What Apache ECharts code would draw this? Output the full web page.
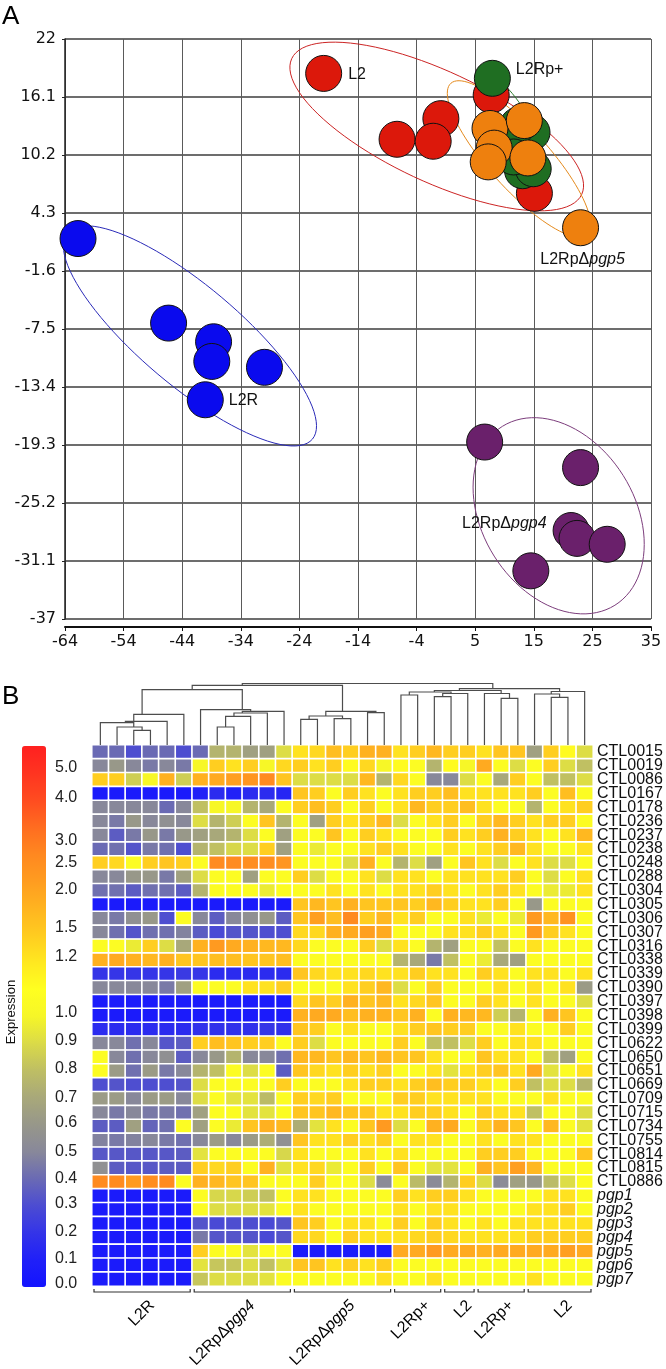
<!DOCTYPE html>
<html>
<head>
<meta charset="utf-8">
<title>PCA and expression heatmap</title>
<script src="https://cdn.jsdelivr.net/npm/echarts@6.0.0/dist/echarts.min.js"></script>
<style>
  html, body { margin: 0; padding: 0; background: #fff; }
  #chart { width: 666px; height: 1369px; }
</style>
</head>
<body>
<div id="chart"></div>
<script>
// ---------- panel A: PCA scores ----------
const l2rPoints = [[-61.8, 1.7], [-46.5, -6.9], [-38.9, -8.8], [-39.2, -10.8], [-30.3, -11.4], [-40.3, -14.7]]
const pgp4Points = [[6.9, -19.0], [23.1, -21.6], [21.5, -28.0], [22.5, -28.8], [27.6, -29.4], [14.7, -32.1]]
const l2Points = [[-20.3, 18.5], [-0.5, 13.9], [-7.9, 11.8], [-1.8, 11.6], [8.0, 16.3], [15.3, 6.3]]
const l2rpPlusPoints = [[8.2, 18.0], [14.9, 12.5], [12.5, 13.2], [13.3, 8.6], [15.1, 8.8], [11.8, 10.0]]
const pgp5Points = [[7.8, 12.9], [13.6, 13.7], [8.5, 10.9], [7.5, 9.5], [14.2, 9.9], [23.1, 2.8]]

// group ellipses: centre x, centre y, first semi-axis (dx, dy), second semi-axis (dx, dy)
const l2rEllipse = [-42.9, -8.2, 20.7, -10.5, -5.4, -3.9]
const pgp4Ellipse = [19.4, -26.5, 9.5, -9.1, -10.9, -4.1]
const l2Ellipse = [-1.2, 13.1, 24.5, -6.9, -3.9, -5.1]
const l2rpPlusEllipse = [12.0, 12.7, 4.8, -5.4, -2.7, -0.9]
const pgp5Ellipse = [12.7, 9.8, 11.5, -7.7, -3.8, -2.0]

// ---------- panel B: expression heatmap ----------
const groupNames = ['L2R', 'L2Rp\u0394pgp4', 'L2Rp\u0394pgp5', 'L2Rp+', 'L2', 'L2Rp+', 'L2']
const groupSizes = [6, 6, 6, 3, 2, 3, 4]

const geneNames = ['CTL0015', 'CTL0019', 'CTL0086', 'CTL0167', 'CTL0178', 'CTL0236', 'CTL0237', 'CTL0238',
  'CTL0248', 'CTL0288', 'CTL0304', 'CTL0305', 'CTL0306', 'CTL0307', 'CTL0316', 'CTL0338', 'CTL0339',
  'CTL0390', 'CTL0397', 'CTL0398', 'CTL0399', 'CTL0622', 'CTL0650', 'CTL0651', 'CTL0669', 'CTL0709',
  'CTL0715', 'CTL0734', 'CTL0755', 'CTL0814', 'CTL0815', 'CTL0886',
  'pgp1', 'pgp2', 'pgp3', 'pgp4', 'pgp5', 'pgp6', 'pgp7']

// one row per gene, one value per sample column (left to right)
const expression = [
  [0.4, 0.4, 0.3, 0.4, 0.4, 0.3, 0.4, 0.75, 0.75, 0.65, 0.65, 0.9, 1.2, 1.3, 1.6, 1.4, 1.8, 1.8, 1.2, 1.4, 1.7, 1.4, 1.4, 1.2, 1.5, 1.5, 0.65, 1.4, 1.1, 0.9],
  [0.5, 0.6, 0.5, 0.45, 0.5, 0.45, 1.0, 1.4, 1.2, 1.4, 1.0, 1.3, 1.4, 1.2, 1.4, 1.1, 1.3, 1.0, 1.1, 1.05, 0.75, 1.1, 1.0, 1.9, 1.05, 0.9, 1.05, 1.4, 0.9, 0.8],
  [1.4, 1.4, 0.85, 1.0, 1.8, 0.85, 1.8, 1.9, 2.1, 2.3, 2.6, 1.5, 0.9, 0.9, 0.9, 0.9, 1.7, 0.75, 1.3, 1.05, 0.5, 0.5, 0.9, 1.05, 0.7, 1.4, 1.05, 0.8, 0.8, 0.9],
  [0.05, 0.05, 0.05, 0.05, 0.05, 0.05, 0.1, 0.15, 0.1, 0.15, 0.15, 0.12, 1.5, 1.4, 1.05, 1.4, 1.2, 1.05, 1.2, 1.4, 1.4, 1.6, 1.2, 1.2, 1.2, 1.2, 1.4, 1.05, 1.6, 1.05],
  [0.5, 0.5, 0.5, 0.5, 0.4, 0.5, 0.8, 1.0, 1.0, 0.75, 0.7, 1.05, 1.4, 1.6, 1.4, 1.05, 1.4, 1.05, 1.2, 1.7, 1.4, 1.4, 1.6, 1.2, 1.05, 1.05, 0.75, 1.05, 1.2, 1.4],
  [0.5, 0.45, 0.6, 0.5, 0.55, 0.5, 0.9, 0.75, 0.85, 1.05, 1.5, 0.75, 1.05, 0.65, 1.4, 1.2, 1.4, 1.7, 0.9, 1.05, 1.2, 1.4, 1.05, 1.4, 1.7, 1.4, 1.2, 1.4, 1.4, 1.05],
  [0.5, 0.35, 0.45, 0.6, 0.45, 0.6, 0.65, 0.7, 0.75, 0.9, 1.05, 0.65, 1.05, 1.05, 1.5, 1.05, 1.4, 1.2, 1.05, 1.05, 1.05, 1.4, 1.2, 1.4, 1.8, 1.4, 1.2, 1.05, 1.2, 1.7],
  [0.4, 0.42, 0.32, 0.45, 0.42, 0.3, 0.75, 0.8, 0.88, 0.9, 1.4, 0.65, 1.05, 0.95, 1.05, 1.05, 1.2, 1.4, 1.2, 1.05, 1.05, 1.2, 1.05, 1.2, 1.4, 1.7, 1.2, 1.05, 1.05, 1.2],
  [1.4, 1.3, 1.05, 1.4, 1.5, 1.4, 1.05, 2.6, 2.6, 2.5, 2.5, 2.3, 1.05, 1.05, 1.05, 0.9, 1.8, 1.05, 0.75, 0.9, 0.65, 1.05, 1.5, 1.2, 0.9, 1.05, 1.2, 0.9, 0.9, 1.05],
  [0.5, 0.5, 0.6, 0.6, 0.45, 0.65, 0.9, 1.05, 1.05, 0.65, 1.05, 1.05, 1.4, 0.9, 1.05, 1.05, 1.2, 0.9, 1.2, 1.2, 1.05, 1.2, 1.2, 1.2, 1.2, 1.4, 1.05, 0.9, 1.05, 1.2],
  [0.42, 0.42, 0.35, 0.42, 0.42, 0.35, 0.75, 1.05, 1.05, 1.05, 0.95, 1.05, 1.05, 1.05, 1.2, 1.05, 1.2, 1.05, 1.2, 1.2, 1.4, 1.2, 1.05, 1.2, 1.4, 1.2, 1.05, 0.95, 0.95, 1.2],
  [0.05, 0.05, 0.05, 0.05, 0.05, 0.05, 0.05, 0.05, 0.05, 0.05, 0.05, 0.05, 1.5, 1.7, 1.5, 1.8, 1.5, 1.5, 1.5, 1.4, 1.7, 1.4, 1.2, 1.2, 1.4, 1.05, 0.6, 1.05, 1.05, 1.05],
  [0.5, 0.45, 0.55, 0.6, 0.3, 1.05, 0.5, 0.35, 0.5, 0.55, 0.6, 0.35, 1.5, 2.1, 1.6, 2.6, 1.4, 1.7, 1.2, 1.4, 1.05, 1.05, 1.2, 0.95, 1.05, 0.95, 2.2, 1.7, 2.4, 1.05],
  [0.5, 0.42, 0.32, 0.42, 0.42, 0.48, 0.35, 0.28, 0.32, 0.32, 0.3, 0.3, 1.3, 1.3, 1.8, 1.9, 2.1, 1.9, 1.05, 1.05, 1.05, 1.2, 1.2, 1.4, 1.2, 1.05, 2.2, 1.4, 1.2, 1.05],
  [1.05, 1.05, 0.95, 1.4, 0.9, 0.7, 1.8, 2.2, 1.9, 1.8, 1.7, 1.7, 1.3, 1.05, 1.05, 1.05, 1.4, 0.9, 1.2, 1.05, 0.75, 0.65, 1.05, 1.05, 0.8, 1.05, 1.2, 1.05, 1.05, 1.05],
  [1.8, 1.9, 1.8, 1.7, 1.8, 1.5, 1.5, 1.6, 1.6, 1.5, 1.5, 1.6, 1.05, 1.05, 1.05, 1.05, 1.05, 1.05, 0.75, 0.7, 0.45, 0.8, 1.05, 0.95, 0.7, 0.65, 1.05, 1.05, 1.05, 1.05],
  [0.2, 0.2, 0.2, 0.2, 0.2, 0.22, 0.2, 0.15, 0.15, 0.15, 0.15, 0.15, 1.5, 1.3, 1.2, 1.2, 1.3, 1.2, 1.2, 1.4, 1.2, 1.2, 1.05, 1.4, 1.2, 1.05, 1.2, 1.2, 1.05, 1.2],
  [0.5, 0.5, 0.5, 0.5, 0.45, 0.65, 1.05, 1.05, 1.05, 1.2, 1.2, 1.4, 1.05, 1.05, 1.05, 1.2, 1.4, 1.7, 0.9, 1.05, 1.4, 1.05, 1.05, 1.05, 1.2, 1.05, 1.2, 1.05, 1.2, 0.62],
  [0.05, 0.05, 0.05, 0.05, 0.05, 0.05, 0.05, 0.05, 0.05, 0.05, 0.05, 0.05, 1.3, 1.5, 1.4, 1.8, 1.5, 1.7, 1.2, 1.3, 1.5, 1.05, 1.05, 1.4, 1.2, 1.05, 1.2, 1.05, 1.05, 0.9],
  [0.05, 0.05, 0.05, 0.05, 0.05, 0.05, 0.05, 0.05, 0.05, 0.05, 0.05, 0.05, 1.8, 1.9, 1.9, 1.6, 1.8, 1.8, 1.5, 1.8, 1.05, 1.8, 1.7, 1.7, 0.85, 0.75, 1.05, 1.8, 1.5, 1.05],
  [0.15, 0.15, 0.15, 0.15, 0.15, 0.15, 0.18, 0.18, 0.18, 0.18, 0.2, 0.18, 1.5, 1.4, 1.05, 1.2, 1.05, 1.05, 1.2, 1.4, 1.5, 1.4, 1.4, 1.05, 1.05, 1.2, 1.05, 1.05, 1.4, 1.05],
  [0.5, 0.5, 0.42, 0.5, 0.32, 0.35, 1.4, 1.6, 1.5, 1.4, 1.4, 1.05, 1.4, 0.9, 1.05, 1.05, 1.05, 1.05, 1.4, 1.05, 0.8, 0.8, 0.9, 1.4, 1.05, 1.2, 1.2, 1.05, 1.05, 1.05],
  [1.05, 0.5, 0.42, 0.5, 0.55, 0.35, 0.5, 0.6, 0.75, 0.5, 0.5, 0.42, 1.7, 1.7, 1.5, 1.7, 1.5, 1.7, 1.5, 1.5, 1.2, 1.05, 1.05, 1.5, 1.2, 1.2, 1.05, 0.8, 0.65, 1.05],
  [1.05, 0.62, 0.42, 0.62, 0.45, 0.5, 0.75, 0.8, 1.05, 0.9, 1.05, 0.35, 1.5, 1.3, 1.2, 1.4, 1.2, 1.4, 1.05, 1.05, 1.2, 0.92, 1.2, 1.4, 1.5, 1.2, 1.9, 0.92, 1.05, 1.2],
  [0.3, 0.32, 0.3, 0.3, 0.3, 0.32, 0.9, 1.05, 1.05, 1.05, 1.05, 1.4, 1.05, 1.05, 1.05, 1.2, 1.4, 1.4, 1.2, 1.4, 1.6, 1.4, 1.4, 1.2, 1.05, 1.4, 0.8, 0.9, 0.9, 0.75],
  [0.62, 0.62, 0.5, 0.62, 0.62, 0.5, 0.9, 1.05, 0.92, 0.92, 0.78, 1.05, 1.4, 1.3, 1.4, 1.05, 1.05, 1.05, 1.4, 1.4, 1.2, 1.2, 1.2, 1.2, 1.05, 1.05, 1.05, 1.2, 1.05, 1.05],
  [0.5, 0.45, 0.5, 0.45, 0.45, 0.42, 0.65, 1.05, 1.05, 0.92, 0.92, 1.05, 1.5, 1.5, 1.7, 1.5, 1.5, 1.2, 1.2, 1.4, 1.4, 1.2, 1.05, 1.4, 1.2, 1.2, 0.8, 1.05, 1.05, 0.9],
  [0.35, 0.35, 0.65, 0.38, 0.42, 1.05, 0.65, 1.05, 0.95, 1.5, 1.8, 1.7, 0.72, 0.92, 1.2, 1.05, 1.5, 2.2, 0.9, 1.05, 1.8, 1.9, 1.05, 1.4, 1.8, 1.5, 1.05, 1.7, 1.05, 0.92],
  [0.48, 0.45, 0.48, 0.5, 0.45, 0.42, 0.5, 0.62, 0.5, 0.62, 0.72, 0.55, 1.5, 1.2, 1.2, 1.4, 1.2, 1.4, 1.05, 1.2, 1.2, 1.05, 1.05, 1.2, 1.05, 1.2, 1.2, 1.05, 1.05, 1.05],
  [0.33, 0.33, 0.33, 0.33, 0.33, 0.35, 0.92, 1.05, 1.05, 1.05, 1.05, 0.88, 1.2, 1.05, 1.05, 1.05, 1.2, 1.05, 1.2, 1.05, 1.05, 1.05, 1.05, 1.4, 1.4, 1.4, 1.05, 1.05, 1.05, 1.5],
  [0.55, 0.35, 0.33, 0.33, 0.35, 0.35, 1.4, 1.3, 1.4, 1.05, 1.8, 0.92, 1.2, 1.3, 0.95, 1.05, 1.4, 1.05, 1.5, 1.05, 0.92, 0.92, 1.05, 1.8, 1.5, 2.1, 1.7, 1.05, 1.05, 1.05],
  [2.6, 2.6, 2.2, 2.5, 2.6, 1.05, 1.8, 1.7, 1.5, 1.5, 1.05, 1.05, 1.05, 1.4, 1.05, 1.05, 0.9, 0.52, 1.05, 0.78, 0.52, 0.75, 1.4, 0.9, 0.52, 0.65, 0.6, 0.78, 0.9, 1.05],
  [0.05, 0.05, 0.05, 0.05, 0.05, 0.05, 1.05, 0.88, 0.88, 0.85, 0.8, 1.05, 1.2, 1.2, 1.05, 1.05, 1.05, 1.05, 1.4, 1.2, 1.4, 1.4, 1.2, 1.05, 1.05, 1.05, 1.05, 1.2, 1.2, 1.05],
  [0.05, 0.05, 0.05, 0.05, 0.05, 0.05, 1.05, 0.9, 0.9, 0.9, 0.92, 1.05, 1.2, 1.05, 1.05, 1.05, 1.05, 1.05, 1.2, 1.05, 1.2, 1.2, 1.05, 1.05, 1.05, 1.05, 1.2, 1.2, 1.4, 1.05],
  [0.05, 0.05, 0.05, 0.05, 0.05, 0.05, 0.32, 0.28, 0.3, 0.3, 0.28, 0.32, 1.5, 1.4, 1.05, 1.2, 1.2, 1.05, 1.4, 1.05, 1.4, 1.2, 1.05, 1.2, 1.05, 1.2, 1.2, 1.2, 1.2, 1.2],
  [0.05, 0.05, 0.05, 0.05, 0.05, 0.05, 0.45, 0.32, 0.32, 0.32, 0.28, 0.32, 1.3, 1.3, 1.05, 1.4, 1.2, 1.2, 1.2, 1.3, 1.4, 1.3, 1.2, 1.2, 1.2, 1.2, 1.4, 1.4, 1.4, 1.4],
  [0.05, 0.05, 0.05, 0.05, 0.05, 0.05, 1.4, 1.05, 1.05, 0.92, 1.05, 1.05, 0.05, 0.05, 0.05, 0.05, 0.05, 0.05, 1.9, 1.9, 2.2, 1.9, 1.9, 1.8, 1.9, 1.9, 1.9, 1.9, 2.1, 1.9],
  [0.05, 0.05, 0.05, 0.05, 0.05, 0.05, 0.92, 0.82, 0.82, 0.9, 0.8, 0.92, 1.5, 1.5, 1.2, 1.4, 1.2, 1.4, 1.05, 1.05, 1.05, 1.05, 1.05, 1.05, 1.05, 1.05, 1.05, 1.05, 1.05, 1.05],
  [0.05, 0.05, 0.05, 0.05, 0.05, 0.05, 0.82, 0.9, 0.9, 0.9, 0.92, 1.05, 1.05, 1.05, 1.05, 1.05, 1.05, 1.2, 1.05, 1.05, 1.2, 1.05, 1.05, 1.05, 1.05, 1.05, 1.2, 1.05, 1.05, 1.05]
]

// sample clustering: [left node, right node, height]; nodes 0-29 are columns, 30+ are earlier merges
const merges = [
  [2, 3, 14.7], [1, 30, 18], [0, 31, 22.3], [32, 4, 23.7], [33, 5, 30.7],
  [7, 8, 18], [35, 9, 28.7], [36, 10, 32], [37, 11, 33.7], [6, 38, 35.3],
  [34, 39, 55.3],
  [12, 13, 25.7], [14, 15, 26.3], [41, 42, 29], [16, 17, 32.3], [43, 44, 33.7],
  [40, 45, 59.7],
  [18, 19, 50], [20, 21, 48.3], [48, 22, 51.5], [47, 49, 53],
  [24, 25, 46.7], [23, 51, 51.5], [50, 52, 54.5],
  [27, 28, 47.7], [26, 54, 51], [55, 29, 53.5], [53, 56, 56.3],
  [46, 57, 61.5]
]

// colour key: tick values and where they sit on the bar (0 = bottom, 1 = top)
const keyTickValues = [0.0, 0.1, 0.2, 0.3, 0.4, 0.5, 0.6, 0.7, 0.8, 0.9, 1.0, 1.2, 1.5, 2.0, 2.5, 3.0, 4.0, 5.0]
const keyTickPos = [0.007, 0.052, 0.102, 0.154, 0.2, 0.25, 0.303, 0.351, 0.403, 0.455, 0.507, 0.61, 0.665, 0.734, 0.784, 0.826, 0.904, 0.961]

const keyColors = ['#1414ff', '#2020f8', '#3434e8', '#4c4cd2', '#6a6ab4', '#88889a', '#97978a', '#a8a87a',
  '#bebe64', '#dada48', '#f6f628', '#ffff20', '#ffe820', '#ffcc20', '#ffb420', '#ff9c20', '#ff8820',
  '#ff6c20', '#ff4c20', '#ff3420', '#ff2020']

const FONT = 'Liberation Sans, Arial, sans-serif'

const chart = echarts.init(document.getElementById('chart'))

// value -> position on the colour key
const keyPos = (v) => {
  if (v <= keyTickValues[0]) return keyTickPos[0]
  for (let i = 1; i < keyTickValues.length; i++) {
    if (v <= keyTickValues[i]) {
      const t = (v - keyTickValues[i - 1]) / (keyTickValues[i] - keyTickValues[i - 1])
      return keyTickPos[i - 1] + t * (keyTickPos[i] - keyTickPos[i - 1])
    }
  }
  return keyTickPos[keyTickPos.length - 1]
}

const sampleNames = []
groupNames.forEach((g, i) => {
  for (let k = 0; k < groupSizes[i]; k++) sampleNames.push(g + '-' + (i + 1) + '.' + (k + 1))
})

const heatData = []
expression.forEach((row, r) => {
  row.forEach((v, c) => heatData.push([c, r, keyPos(v), v]))
})

// group brackets under the heatmap
const groupRanges = []
let start = 0
groupSizes.forEach((n) => {
  groupRanges.push([start, start + n - 1, geneNames.length - 1])
  start += n
})

// dendrogram node positions (mean of the leaves beneath)
const nodeX = []
const nodeH = []
const nodeN = []
for (let i = 0; i < sampleNames.length; i++) {
  nodeX[i] = i
  nodeH[i] = 0
  nodeN[i] = 1
}
merges.forEach(([a, b, h], k) => {
  const id = sampleNames.length + k
  nodeN[id] = nodeN[a] + nodeN[b]
  nodeX[id] = (nodeX[a] * nodeN[a] + nodeX[b] * nodeN[b]) / nodeN[id]
  nodeH[id] = h
})
const dendroData = merges.map(([a, b, h]) => [nodeX[a], nodeH[a], nodeX[b], nodeH[b], h])

const richName = (name) => {
  const m = name.match(/^(.*\u0394)(pgp\d)$/)
  return m ? '{n|' + m[1] + '}{i|' + m[2] + '}' : '{n|' + name + '}'
}
const labelRich = (size) => ({
  n: { fontSize: size, fontFamily: FONT, color: '#111' },
  i: { fontSize: size, fontFamily: FONT, color: '#111', fontStyle: 'italic' }
})

const scatterGroups = [
  { name: 'L2R', points: l2rPoints, color: '#0a0aee', labelAt: 5, position: 'right', distance: 5, offset: [0, 1] },
  { name: 'L2Rp\u0394pgp4', points: pgp4Points, color: '#6a206b', labelAt: 2, position: 'left', distance: 6, offset: [0, -7] },
  { name: 'L2', points: l2Points, color: '#dc180b', labelAt: 0, position: 'right', distance: 6, offset: [0, 1] },
  { name: 'L2Rp+', points: l2rpPlusPoints, color: '#1f6e22', labelAt: 0, position: 'right', distance: 5, offset: [0, -9] },
  { name: 'L2Rp\u0394pgp5', points: pgp5Points, color: '#ee800e', labelAt: 5, position: 'bottom', distance: 5, offset: [2, 0] }
]
const ellipses = [
  { e: l2rEllipse, color: '#2a2ab8' },
  { e: pgp4Ellipse, color: '#7c3d7c' },
  { e: l2Ellipse, color: '#cc2424' },
  { e: l2rpPlusEllipse, color: '#2e7d2e' },
  { e: pgp5Ellipse, color: '#e58a1c' }
]

const scatterSeries = scatterGroups.map((g) => ({
  type: 'scatter',
  name: g.name,
  xAxisIndex: 0,
  yAxisIndex: 0,
  symbolSize: 36,
  z: 3,
  itemStyle: { color: g.color, borderColor: '#111', borderWidth: 1, opacity: 1 },
  data: g.points.map((p, i) => (i === g.labelAt
    ? {
        value: p,
        label: {
          show: true,
          position: g.position,
          distance: g.distance,
          offset: g.offset,
          formatter: richName(g.name),
          rich: labelRich(16)
        }
      }
    : p))
}))

const option = {
  animation: false,
  backgroundColor: '#fff',
  grid: [
    { left: 65, top: 39, width: 586, height: 580 },
    { left: 92, top: 745, width: 501, height: 541 },
    { left: 22, top: 746, width: 24, height: 541 },
    { left: 92, top: 682, width: 501, height: 63 }
  ],
  xAxis: [
    {
      gridIndex: 0,
      type: 'value',
      min: -64,
      max: 35,
      interval: 9.9,
      offset: 8,
      axisLine: { show: true, onZero: false, lineStyle: { color: '#111', width: 2 } },
      axisTick: { show: true, length: 4, lineStyle: { color: '#111' } },
      axisLabel: {
        margin: 7,
        color: '#111',
        fontSize: 16,
        fontFamily: 'DejaVu Sans',
        formatter: (v) => String(Math.trunc(Math.round(v * 10) / 10))
      },
      splitLine: { show: true, lineStyle: { color: '#5a5a5a', width: 1 } }
    },
    { gridIndex: 1, type: 'category', data: sampleNames, show: false },
    { gridIndex: 2, type: 'value', show: false, min: 0, max: 1 },
    { gridIndex: 3, type: 'value', show: false, min: -0.5, max: sampleNames.length - 0.5 }
  ],
  yAxis: [
    {
      gridIndex: 0,
      type: 'value',
      min: -37,
      max: 22,
      interval: 5.9,
      axisLine: { show: true, onZero: false, lineStyle: { color: '#222', width: 1.5 } },
      axisTick: { show: true, length: 3, lineStyle: { color: '#222' } },
      axisLabel: {
        margin: 9,
        color: '#111',
        fontSize: 16,
        fontFamily: 'DejaVu Sans',
        formatter: (v) => {
          const r = Math.round(v * 10) / 10
          return Number.isInteger(r) ? String(r) : r.toFixed(1)
        }
      },
      splitLine: { show: true, lineStyle: { color: '#3c3c3c', width: 1.5 } }
    },
    {
      gridIndex: 1,
      type: 'category',
      data: geneNames,
      inverse: true,
      position: 'right',
      axisLine: { show: false },
      axisTick: { show: false },
      axisLabel: {
        interval: 0,
        margin: 4,
        formatter: (name) => (name.startsWith('pgp') ? '{i|' + name + '}' : '{n|' + name + '}'),
        rich: labelRich(16)
      }
    },
    {
      gridIndex: 2,
      type: 'value',
      min: 0,
      max: 1,
      position: 'right',
      axisLine: { show: false },
      axisTick: { show: false },
      splitLine: { show: false },
      axisLabel: {
        customValues: keyTickPos,
        margin: 9,
        color: '#222',
        fontSize: 16,
        fontFamily: FONT,
        formatter: (v) => {
          let best = 0
          keyTickPos.forEach((p, i) => {
            if (Math.abs(p - v) < Math.abs(keyTickPos[best] - v)) best = i
          })
          return keyTickValues[best].toFixed(1)
        }
      }
    },
    { gridIndex: 3, type: 'value', show: false, min: 0, max: 63 }
  ],
  visualMap: {
    type: 'continuous',
    min: 0,
    max: 1,
    dimension: 2,
    seriesIndex: 6,
    orient: 'vertical',
    left: 22,
    top: 746,
    itemWidth: 24,
    itemHeight: 541,
    padding: 0,
    calculable: false,
    hoverLink: false,
    inRange: { color: keyColors }
  },
  graphic: [
    { type: 'text', x: 2, y: 4, style: { text: 'A', font: '26px ' + FONT, fill: '#000' } },
    { type: 'text', x: 2, y: 684, style: { text: 'B', font: '26px ' + FONT, fill: '#000' } },
    {
      type: 'text',
      x: 11,
      y: 1012,
      rotation: Math.PI / 2,
      style: { text: 'Expression', font: '13px ' + FONT, fill: '#111', align: 'center', verticalAlign: 'middle' }
    }
  ],
  series: [
    {
      type: 'custom',
      name: 'ellipses',
      xAxisIndex: 0,
      yAxisIndex: 0,
      z: 2,
      silent: true,
      encode: { x: 0, y: 1 },
      data: ellipses.map((d) => d.e),
      renderItem: (params, api) => {
        const c = api.coord([api.value(0), api.value(1)])
        const u = api.coord([api.value(0) + api.value(2), api.value(1) + api.value(3)])
        const w = api.coord([api.value(0) + api.value(4), api.value(1) + api.value(5)])
        const pts = []
        for (let k = 0; k <= 96; k++) {
          const t = (k / 96) * Math.PI * 2
          pts.push([
            c[0] + Math.cos(t) * (u[0] - c[0]) + Math.sin(t) * (w[0] - c[0]),
            c[1] + Math.cos(t) * (u[1] - c[1]) + Math.sin(t) * (w[1] - c[1])
          ])
        }
        return {
          type: 'polyline',
          shape: { points: pts },
          style: { stroke: ellipses[params.dataIndex].color, lineWidth: 1, fill: null }
        }
      }
    },
    ...scatterSeries,
    {
      type: 'heatmap',
      name: 'expression',
      xAxisIndex: 1,
      yAxisIndex: 1,
      data: heatData,
      itemStyle: { borderColor: '#ffffff', borderWidth: 1.6 },
      emphasis: { disabled: true }
    },
    {
      type: 'custom',
      name: 'groups',
      xAxisIndex: 1,
      yAxisIndex: 1,
      silent: true,
      encode: { x: [0, 1], y: 2 },
      data: groupRanges,
      renderItem: (params, api) => {
        const size = api.size([1, 1])
        const a = api.coord([api.value(0), api.value(2)])
        const b = api.coord([api.value(1), api.value(2)])
        const x0 = a[0] - size[0] / 2 + 2
        const x1 = b[0] + size[0] / 2 - 2
        const y = a[1] + size[1] / 2 + 6
        return {
          type: 'group',
          children: [
            {
              type: 'polyline',
              shape: { points: [[x0, y - 3], [x0, y], [x1, y], [x1, y - 3]] },
              style: { stroke: '#333', lineWidth: 1.2, fill: null }
            },
            {
              type: 'text',
              x: (x0 + x1) / 2 + 10,
              y: y + 11,
              rotation: Math.PI / 4,
              style: {
                text: richName(groupNames[params.dataIndex]),
                rich: labelRich(16),
                align: 'right',
                verticalAlign: 'middle'
              }
            }
          ]
        }
      }
    },
    {
      type: 'custom',
      name: 'dendrogram',
      xAxisIndex: 3,
      yAxisIndex: 3,
      silent: true,
      encode: { x: [0, 2], y: [1, 3, 4] },
      data: dendroData,
      renderItem: (params, api) => {
        const p1 = api.coord([api.value(0), api.value(1)])
        const p2 = api.coord([api.value(0), api.value(4)])
        const p3 = api.coord([api.value(2), api.value(4)])
        const p4 = api.coord([api.value(2), api.value(3)])
        return {
          type: 'polyline',
          shape: { points: [p1, p2, p3, p4] },
          style: { stroke: '#4d4d4d', lineWidth: 1.2, fill: null }
        }
      }
    }
  ]
}

chart.setOption(option)
</script>
</body>
</html>
